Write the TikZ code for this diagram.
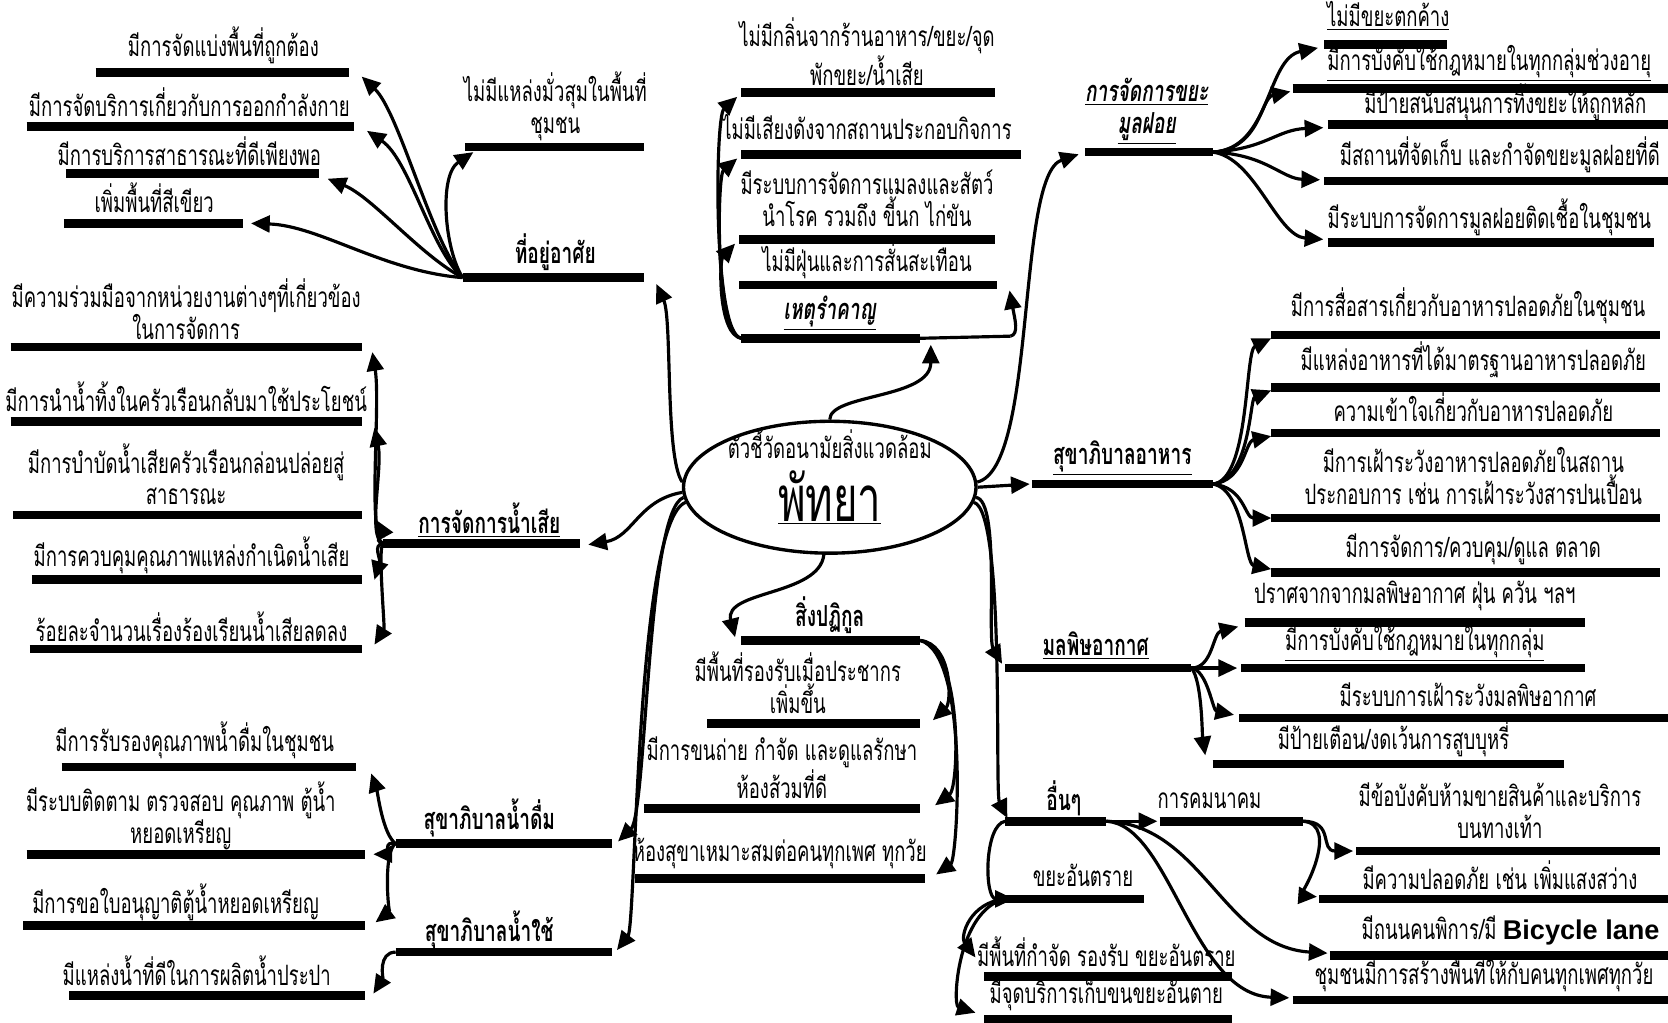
\documentclass[tikz,border=0pt]{standalone}
\usepackage{fontspec}
\usetikzlibrary{arrows.meta,calc,shapes.geometric}
\newfontfamily\thai[Script=Thai,FakeStretch=0.66]{Loma}
\newfontfamily\arial{Liberation Sans}
\tikzset{
  txt/.style={font={\thai\fontsize{15}{17}\selectfont}, align=center, inner sep=0pt, yshift=3pt},
  hd/.style={font={\thai\bfseries\fontsize{15.5}{17}\selectfont}, align=center, inner sep=0pt, yshift=3pt},
  hdi/.style={font={\thai\bfseries\itshape\fontsize{15.5}{17}\selectfont}, align=center, inner sep=0pt, yshift=3pt},
  barline/.style={line width=4.6pt},
  conn/.style={line width=1.7pt, -{Triangle[length=10pt,width=9pt]}},
}
\newcommand\mitem[8][txt]{%
  \coordinate (#2-l) at (#3,#5);
  \coordinate (#2-r) at (#4,#5);
  \draw[barline] (#2-l) -- (#2-r);
  \node[#1] (#2-t) at (#6,#7) {#8};
}
\begin{document}
\begin{tikzpicture}[x=0.02cm,y=-0.02cm]
\useasboundingbox (0,0) rectangle (1568,961);
\fill[white] (0,0) rectangle (1568,961);

% centre
\node[draw, ellipse, line width=1.8pt, minimum width=5.5cm, minimum height=2.48cm] (c) at (780,458) {};
\node[txt] (c-t1) at (780,422) {ตัวชี้วัดอนามัยสิ่งแวดล้อม};
\node[txt, font={\thai\fontsize{34}{38}\selectfont}] (c-t2) at (780,473) {\underline{พัทยา}};

% housing
\mitem[hd]{h}{435}{605}{261}{522}{244}{\underline{ที่อยู่อาศัย}}
\mitem{h1}{90}{328}{68}{210}{48}{มีการจัดแบ่งพื้นที่ถูกต้อง}
\mitem{h2}{25}{333}{119}{178}{101}{มีการจัดบริการเกี่ยวกับการออกกำลังกาย}
\mitem{h3}{62}{300}{163}{178}{147}{มีการบริการสาธารณะที่ดีเพียงพอ}
\mitem{h4}{60}{228}{210}{145}{191}{เพิ่มพื้นที่สีเขียว}
\mitem{h5}{437}{605}{138}{522}{105}{ไม่มีแหล่งมั่วสุมในพื้นที่\\ชุมชน}

% waste water
\mitem[hd]{w}{360}{545}{511}{460}{494}{\underline{การจัดการน้ำเสีย}}
\mitem{w1}{10}{340}{326}{175}{296}{มีความร่วมมือจากหน่วยงานต่างๆที่เกี่ยวข้อง\\ในการจัดการ}
\mitem{w2}{10}{340}{396}{175}{378}{มีการนำน้ำทิ้งในครัวเรือนกลับมาใช้ประโยชน์}
\mitem{w3}{12}{340}{484}{175}{451}{มีการบำบัดน้ำเสียครัวเรือนกล่อนปล่อยสู่\\สาธารณะ}
\mitem{w4}{30}{340}{545}{180}{527}{มีการควบคุมคุณภาพแหล่งกำเนิดน้ำเสีย}
\mitem{w5}{28}{340}{610}{180}{594}{ร้อยละจำนวนเรื่องร้องเรียนน้ำเสียลดลง}

% drinking water
\mitem[hd]{d}{372}{575}{793}{460}{776}{\underline{สุขาภิบาลน้ำดื่ม}}
\mitem{d1}{58}{335}{721}{183}{701}{มีการรับรองคุณภาพน้ำดื่มในชุมชน}
\mitem{d2}{25}{343}{803}{170}{772}{มีระบบติดตาม ตรวจสอบ คุณภาพ ตู้น้ำ\\หยอดเหรียญ}
\mitem{d3}{22}{343}{870}{165}{853}{มีการขอใบอนุญาติตู้น้ำหยอดเหรียญ}

% utility water
\mitem[hd]{u}{372}{575}{895}{460}{881}{\underline{สุขาภิบาลน้ำใช้}}
\mitem{u1}{65}{343}{936}{185}{918}{มีแหล่งน้ำที่ดีในการผลิตน้ำประปา}

% nuisance
\mitem[hdi]{n}{697}{865}{318}{780}{300}{\underline{เหตุรำคาญ}}
\mitem{n1}{697}{935}{87}{815}{54}{ไม่มีกลิ่นจากร้านอาหาร/ขยะ/จุด\\พักขยะ/น้ำเสีย}
\mitem{n2}{697}{960}{145}{815}{125}{ไม่มีเสียงดังจากสถานประกอบกิจการ}
\mitem{n3}{695}{935}{225}{815}{192}{มีระบบการจัดการแมลงและสัตว์\\นำโรค รวมถึง ขี้นก ไก่ขัน}
\mitem{n4}{695}{937}{268}{815}{250}{ไม่มีฝุ่นและการสั่นสะเทือน}
\coordinate (n-e) at (950,316);
\draw[line width=1.7pt] (n-r) -- (n-e);

% sewage
\mitem[hd]{s}{697}{865}{602}{780}{585}{\underline{สิ่งปฏิกูล}}
\mitem{s1}{665}{865}{680}{750}{647}{มีพื้นที่รองรับเมื่อประชากร\\เพิ่มขึ้น}
\mitem{s2}{605}{865}{760}{735}{727}{มีการขนถ่าย กำจัด และดูแลรักษา\\ห้องส้วมที่ดี}
\mitem{s3}{597}{870}{826}{733}{808}{ห้องสุขาเหมาะสมต่อคนทุกเพศ ทุกวัย}

% solid waste
\mitem[hdi]{g}{1020}{1140}{143}{1078}{110}{\underline{การจัดการขยะ}\\\underline{มูลฝอย}}
\mitem{g1}{1245}{1360}{42}{1305}{20}{\underline{ไม่มีขยะตกค้าง}}
\mitem{g2}{1215}{1568}{83}{1400}{65}{\underline{มีการบังคับใช้กฎหมายในทุกกลุ่มช่วงอายุ}}
\mitem{g3}{1248}{1568}{117}{1415}{101}{มีป้ายสนับสนุนการทิ้งขยะให้ถูกหลัก}
\mitem{g4}{1245}{1568}{170}{1410}{151}{มีสถานที่จัดเก็บ และกำจัดขยะมูลฝอยที่ดี}
\mitem{g5}{1248}{1555}{228}{1400}{210}{มีระบบการจัดการมูลฝอยติดเชื้อในชุมชน}

% food
\mitem[hd]{f}{970}{1140}{455}{1055}{436}{\underline{สุขาภิบาลอาหาร}}
\mitem{f1}{1195}{1560}{315}{1380}{293}{มีการสื่อสารเกี่ยวกับอาหารปลอดภัยในชุมชน}
\mitem{f2}{1195}{1560}{364}{1385}{343}{มีแหล่งอาหารที่ได้มาตรฐานอาหารปลอดภัย}
\mitem{f3}{1195}{1560}{407}{1385}{388}{ความเข้าใจเกี่ยวกับอาหารปลอดภัย}
\mitem{f4}{1195}{1560}{487}{1385}{453}{มีการเฝ้าระวังอาหารปลอดภัยในสถาน\\ประกอบการ เช่น การเฝ้าระวังสารปนเปื้อน}
\mitem{f5}{1195}{1560}{538}{1385}{522}{มีการจัดการ/ควบคุม/ดูแล ตลาด}

% air
\mitem[hd]{a}{945}{1120}{628}{1030}{612}{\underline{มลพิษอากาศ}}
\mitem{a1}{1170}{1490}{585}{1330}{565}{ปราศจากจากมลพิษอากาศ ฝุ่น ควัน ฯลฯ}
\mitem{a2}{1167}{1490}{628}{1330}{610}{\underline{มีการบังคับใช้กฎหมายในทุกกลุ่ม}}
\mitem{a3}{1165}{1568}{675}{1380}{658}{มีระบบการเฝ้าระวังมลพิษอากาศ}
\mitem{a4}{1140}{1470}{718}{1310}{700}{มีป้ายเตือน/งดเว้นการสูบบุหรี่}

% others
\mitem[hd]{o}{945}{1040}{772}{1000}{757}{\underline{อื่นๆ}}
\mitem{k}{1090}{1225}{772}{1137}{758}{การคมนาคม}
\mitem{k1}{1275}{1560}{800}{1410}{767}{มีข้อบังคับห้ามขายสินค้าและบริการ\\บนทางเท้า}
\mitem{k2}{1240}{1568}{845}{1410}{828}{มีความปลอดภัย เช่น เพิ่มแสงสว่าง}
\mitem{o1}{1250}{1568}{898}{1420}{880}{มีถนนคนพิการ/มี {\arial\bfseries\fontsize{14.5}{17}\selectfont Bicycle lane}}
\mitem{o2}{1215}{1568}{940}{1395}{920}{ชุมชนมีการสร้างพื้นที่ให้กับคนทุกเพศทุกวัย}
\mitem{z}{945}{1075}{845}{1018}{828}{ขยะอันตราย}
\mitem{z1}{925}{1158}{918}{1040}{900}{มีพื้นที่กำจัด รองรับ ขยะอันตราย}
\mitem{z2}{925}{1158}{958}{1040}{940}{มีจุดบริการเก็บขนขยะอันตาย}

% ---- connectors from centre
\draw[conn] (c.178) .. controls (625,430) and (632,300) .. ($(h-r)+(12,6)$);
\draw[conn] (c.182) .. controls (600,470) and (595,505) .. ($(w-r)+(8,1)$);
\draw[conn] (c.184) .. controls (608,480) and (608,765) .. ($(d-r)+(6,-2)$);
\draw[conn] (c.186) .. controls (598,490) and (598,870) .. ($(u-r)+(5,-2)$);
\draw[conn] (c.north) .. controls (780,370) and (875,375) .. ($(n-r)+(10,6)$);
\draw[conn] (c.265) .. controls (770,560) and (680,555) .. ($(s-l)+(-6,-3)$);
\draw[conn] (c.2) .. controls (975,440) and (955,165) .. ($(g-l)+(-6,2)$);
\draw[conn] (c.east) -- ($(f-l)+(-2,0)$);
\draw[conn] (c.356) .. controls (940,470) and (928,600) .. ($(a-l)+(-3,-4)$);
\draw[conn] (c.354) .. controls (945,480) and (935,745) .. ($(o-l)+(2,-3)$);

% housing children
\draw[conn] (h-l) .. controls (405,225) and (375,105) .. ($(h1-r)+(12,4)$);
\draw[conn] (h-l) .. controls (405,235) and (385,150) .. ($(h2-r)+(12,4)$);
\draw[conn] (h-l) .. controls (395,240) and (350,185) .. ($(h3-r)+(8,5)$);
\draw[conn] (h-l) .. controls (360,255) and (300,212) .. ($(h4-r)+(8,0)$);
\draw[conn] (h-l) .. controls (418,235) and (412,165) .. ($(h5-l)+(8,5)$);

% waste water children
\draw[conn] (w-l) .. controls (345,505) and (358,380) .. ($(w1-r)+(10,5)$);
\draw[conn] (w-l) .. controls (345,505) and (360,440) .. ($(w2-r)+(12,6)$);
\draw[conn] (w-l) .. controls (350,508) and (360,500) .. ($(w3-r)+(14,5)$);
\draw[conn] (w-l) .. controls (350,512) and (358,525) .. ($(w4-r)+(12,0)$);
\draw[conn] (w-l) .. controls (355,515) and (362,590) .. ($(w5-r)+(12,-4)$);

% drinking water children
\draw[conn] (d-l) .. controls (360,785) and (355,745) .. ($(d1-r)+(14,6)$);
\draw[conn] (d-l) .. controls (360,790) and (365,803) .. ($(d2-r)+(8,0)$);
\draw[conn] (d-l) .. controls (360,800) and (365,858) .. ($(d3-r)+(10,-3)$);
\draw[conn] (u-l) .. controls (355,895) and (360,920) .. ($(u1-r)+(8,-2)$);

% nuisance children
\draw[conn] (n-l) .. controls (670,315) and (672,110) .. ($(n1-l)+(-4,4)$);
\draw[conn] (n-l) .. controls (672,315) and (674,165) .. ($(n2-l)+(-4,4)$);
\draw[conn] (n-l) .. controls (675,315) and (676,245) .. ($(n3-l)+(-4,4)$);
\draw[conn] (n-e) .. controls (958,314) and (954,300) .. ($(n4-r)+(12,5)$);

% sewage children
\draw[conn] (s-r) .. controls (895,605) and (895,660) .. ($(s1-r)+(12,-3)$);
\draw[conn] (s-r) .. controls (905,610) and (902,740) .. ($(s2-r)+(14,-3)$);
\draw[conn] (s-r) .. controls (912,615) and (900,808) .. ($(s3-r)+(10,-4)$);

% solid waste children
\draw[conn] (g-r) .. controls (1195,140) and (1190,55) .. ($(g1-l)+(-6,3)$);
\draw[conn] (g-r) .. controls (1185,140) and (1185,92) .. ($(g2-l)+(-2,3)$);
\draw[conn] (g-r) .. controls (1190,140) and (1200,122) .. ($(g3-l)+(-4,3)$);
\draw[conn] (g-r) .. controls (1190,145) and (1205,168) .. ($(g4-l)+(-4,-1)$);
\draw[conn] (g-r) .. controls (1180,148) and (1200,222) .. ($(g5-l)+(-4,-3)$);

% food children
\draw[conn] (f-r) .. controls (1175,452) and (1170,330) .. ($(f1-l)+(0,3)$);
\draw[conn] (f-r) .. controls (1175,452) and (1175,375) .. ($(f2-l)+(0,3)$);
\draw[conn] (f-r) .. controls (1170,452) and (1170,415) .. ($(f3-l)+(0,3)$);
\draw[conn] (f-r) .. controls (1170,458) and (1170,487) .. ($(f4-l)+(0,0)$);
\draw[conn] (f-r) .. controls (1170,460) and (1170,530) .. ($(f5-l)+(0,-3)$);

% air children
\draw[conn] (a-r) .. controls (1140,628) and (1140,595) .. ($(a1-l)+(-6,4)$);
\draw[conn] (a-r) -- ($(a2-l)+(-4,0)$);
\draw[conn] (a-r) .. controls (1135,630) and (1140,668) .. ($(a3-l)+(-5,-3)$);
\draw[conn] (a-r) .. controls (1130,640) and (1130,690) .. ($(a4-l)+(-7,-8)$);

% others children
\draw[conn] (o-r) -- ($(k-l)+(-2,0)$);
\draw[conn] (k-r) .. controls (1255,772) and (1240,800) .. ($(k1-l)+(-3,0)$);
\draw[conn] (k-r) .. controls (1260,775) and (1225,842) .. ($(k2-l)+(-2,-2)$);
\draw[conn] (o-r) .. controls (1130,775) and (1150,890) .. ($(o1-l)+(-2,-2)$);
\draw[conn] (o-r) .. controls (1100,775) and (1120,935) .. ($(o2-l)+(-3,-2)$);
\draw[conn] (o-l) .. controls (925,775) and (925,845) .. ($(z-l)+(8,0)$);
\draw[conn] (z-l) .. controls (912,848) and (902,880) .. ($(z1-l)+(-8,-18)$);
\draw[conn] (z-l) .. controls (900,855) and (895,945) .. ($(z2-l)+(-8,-6)$);
\end{tikzpicture}
\end{document}
